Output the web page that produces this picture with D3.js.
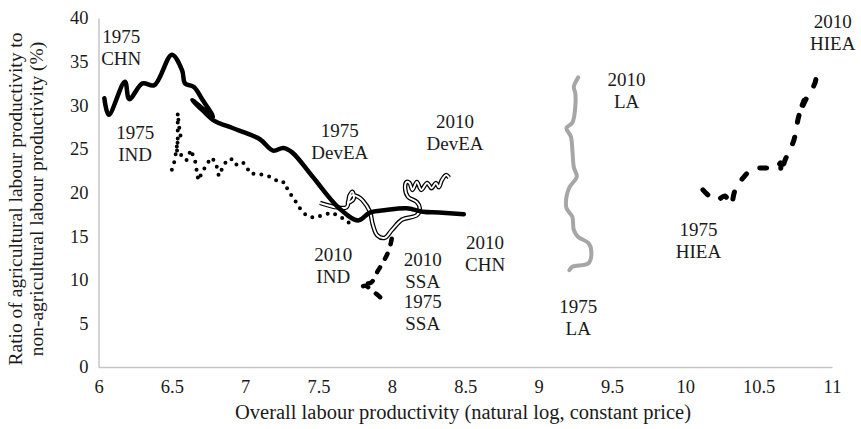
<!DOCTYPE html>
<html>
<head>
<meta charset="utf-8">
<script src="https://cdn.jsdelivr.net/npm/d3@7"></script>
<style>
  body { margin: 0; background: #fff; }
  text { font-family: "Liberation Serif", "DejaVu Serif", serif; fill: #1a1a1a; }
</style>
</head>
<body>
<script>
// ln labour productivity (x) vs agri / non-agri productivity ratio % (y), 1975-2010
var chn = [[6.04,30.8],[6.07,28.9],[6.18,32.7],[6.21,30.7],[6.30,32.5],[6.38,32.3],[6.50,35.8],
  [6.57,34.0],[6.59,32.5],[6.65,32.1],[6.71,30.6],[6.78,28.7],[6.64,30.6],[6.71,29.4],[6.79,28.2],
  [6.88,27.6],[6.96,27.1],[7.10,26.1],[7.19,24.8],[7.26,25.1],[7.32,24.6],[7.46,21.8],[7.64,18.2],
  [7.77,16.8],[7.85,17.7],[7.96,18.0],[8.10,18.2],[8.21,17.8],[8.32,17.7],[8.49,17.5]];

var ind = [[6.50,22.6],[6.52,23.7],[6.54,26.0],[6.54,29.1],[6.55,27.5],[6.56,26.4],[6.53,25.4],
  [6.54,24.3],[6.57,24.3],[6.60,23.7],[6.63,24.9],[6.66,23.5],[6.68,21.4],[6.71,22.4],[6.74,23.3],
  [6.77,24.0],[6.80,23.4],[6.82,21.9],[6.85,23.0],[6.88,23.8],[6.92,23.8],[6.94,23.2],[6.98,23.5],
  [7.01,23.0],[7.03,22.2],[7.10,22.1],[7.17,21.8],[7.24,21.1],[7.27,21.2],[7.29,20.3],[7.35,18.8],
  [7.38,18.0],[7.42,17.3],[7.47,17.1],[7.53,17.4],[7.59,17.7],[7.64,17.3],[7.68,16.9],[7.73,16.2]];

var devea = [[7.51,18.8],[7.69,18.3],[7.71,19.6],[7.73,20.1],[7.74,19.3],[7.70,18.8],[7.73,19.7],
  [7.77,19.5],[7.80,19.1],[7.85,17.8],[7.87,16.3],[7.90,15.1],[7.95,14.8],[8.00,15.7],[8.07,16.9],
  [8.17,17.4],[8.19,18.2],[8.17,18.9],[8.11,19.5],[8.09,20.5],[8.10,21.2],[8.12,21.1],[8.14,20.3],
  [8.17,21.2],[8.20,20.3],[8.24,21.1],[8.27,20.5],[8.30,21.1],[8.32,20.6],[8.34,21.4],[8.37,22.0],
  [8.39,21.7]];

var ssa = [[7.92,8.0],[7.87,8.7],[7.82,9.3],[7.79,9.2],[7.81,9.5],[7.86,9.7],[7.90,10.9],
  [7.94,12.0],[7.98,13.4],[8.00,14.8]];

var la = [[9.21,11.1],[9.23,11.5],[9.34,11.9],[9.36,13.1],[9.34,14.2],[9.27,14.9],[9.24,15.7],
  [9.23,17.2],[9.19,18.2],[9.19,19.5],[9.21,20.6],[9.26,21.8],[9.24,22.9],[9.23,24.9],[9.22,26.4],
  [9.19,27.4],[9.23,28.0],[9.25,29.8],[9.25,31.4],[9.24,32.1],[9.27,33.2]];

var hiea = [[10.12,20.3],[10.21,19.1],[10.27,19.6],[10.31,18.6],[10.34,20.3],[10.40,21.8],
  [10.46,22.7],[10.55,22.8],[10.62,22.8],[10.65,23.4],[10.65,22.2],[10.68,23.7],[10.74,26.0],
  [10.77,28.5],[10.79,29.7],[10.81,30.6],[10.78,29.2],[10.82,30.6],[10.87,32.0],[10.89,33.1],
  [10.86,34.3]];

var xTicks = [6, 6.5, 7, 7.5, 8, 8.5, 9, 9.5, 10, 10.5, 11];
var yTicks = [0, 5, 10, 15, 20, 25, 30, 35, 40];

// label: [x, y, line1, line2]
var labels = [
  [6.155, 37.1, "1975", "CHN"],
  [6.25, 26.1, "1975", "IND"],
  [7.645, 26.4, "1975", "DevEA"],
  [8.43, 27.4, "2010", "DevEA"],
  [7.60, 12.2, "2010", "IND"],
  [8.21, 11.6, "2010", "SSA"],
  [8.21, 6.8, "1975", "SSA"],
  [8.635, 13.5, "2010", "CHN"],
  [9.60, 32.2, "2010", "LA"],
  [9.27, 6.2, "1975", "LA"],
  [10.09, 15.0, "1975", "HIEA"],
  [11.005, 38.9, "2010", "HIEA"]
];

var width = 861, height = 429;

var svg = d3.select("body").append("svg")
    .attr("width", width)
    .attr("height", height);

var x = d3.scaleLinear().domain([6, 11]).range([98.5, 832]);
var y = d3.scaleLinear().domain([0, 40]).range([367, 18]);

// axes
var xAxis = svg.append("g")
    .attr("transform", "translate(0," + y(0) + ")")
    .call(d3.axisBottom(x).tickValues(xTicks).tickSize(0).tickPadding(13)
        .tickFormat(d3.format("")));
var yAxis = svg.append("g")
    .attr("transform", "translate(" + x(6) + ",0)")
    .call(d3.axisLeft(y).tickValues(yTicks).tickSize(0).tickPadding(10));

[xAxis, yAxis].forEach(function (a) {
    a.select(".domain").attr("stroke", "#c4c4c4").attr("stroke-width", 1.5);
    a.selectAll("text").style("font-size", "18.5px").attr("fill", "#1a1a1a");
});

var line = d3.line()
    .x(function (d) { return x(d[0]); })
    .y(function (d) { return y(d[1]); })
    .curve(d3.curveCatmullRom.alpha(0.5));

var lineStraight = d3.line()
    .x(function (d) { return x(d[0]); })
    .y(function (d) { return y(d[1]); });

// IND dotted
svg.append("path").datum(ind)
    .attr("d", lineStraight)
    .attr("fill", "none")
    .attr("stroke", "#000")
    .attr("stroke-width", 4)
    .attr("stroke-linecap", "round")
    .attr("stroke-dasharray", "0,8");

// DevEA hollow line
svg.append("path").datum(devea)
    .attr("d", line)
    .attr("fill", "none")
    .attr("stroke", "#000")
    .attr("stroke-width", 4.5)
    .attr("stroke-linejoin", "round");
svg.append("path").datum(devea)
    .attr("d", line)
    .attr("fill", "none")
    .attr("stroke", "#fff")
    .attr("stroke-width", 2)
    .attr("stroke-linejoin", "round");

// CHN solid
svg.append("path").datum(chn)
    .attr("d", line)
    .attr("fill", "none")
    .attr("stroke", "#000")
    .attr("stroke-width", 4.5)
    .attr("stroke-linejoin", "round")
    .attr("stroke-linecap", "round");

// SSA dashed
svg.append("path").datum(ssa)
    .attr("d", line)
    .attr("fill", "none")
    .attr("stroke", "#000")
    .attr("stroke-width", 4.5)
    .attr("stroke-linecap", "round")
    .attr("stroke-dasharray", "5.5,10");

// LA grey
svg.append("path").datum(la)
    .attr("d", line)
    .attr("fill", "none")
    .attr("stroke", "#a6a6a6")
    .attr("stroke-width", 4)
    .attr("stroke-linejoin", "round")
    .attr("stroke-linecap", "round");

// HIEA long dash
svg.append("path").datum(hiea)
    .attr("d", line)
    .attr("fill", "none")
    .attr("stroke", "#000")
    .attr("stroke-width", 5)
    .attr("stroke-linecap", "round")
    .attr("stroke-dasharray", "7,15");

// series labels
var lab = svg.append("g").selectAll("text")
    .data(labels)
    .enter()
    .append("text")
    .attr("text-anchor", "middle")
    .style("font-size", "19px")
    .attr("x", function (d) { return x(d[0]); })
    .attr("y", function (d) { return y(d[1]); });
lab.append("tspan").text(function (d) { return d[2]; });
lab.append("tspan")
    .attr("x", function (d) { return x(d[0]); })
    .attr("dy", 22)
    .text(function (d) { return d[3]; });

// axis titles
svg.append("text")
    .attr("x", 463)
    .attr("y", 419)
    .attr("text-anchor", "middle")
    .style("font-size", "20.5px")
    .text("Overall labour productivity (natural log, constant price)");

var yt = svg.append("text")
    .attr("transform", "translate(22,199) rotate(-90)")
    .attr("text-anchor", "middle")
    .style("font-size", "19.5px");
yt.append("tspan").attr("x", 0).attr("y", 0)
    .text("Ratio of agricultural labour productivity to");
yt.append("tspan").attr("x", 0).attr("y", 21)
    .text("non-agricultural labour productivity (%)");
</script>
</body>
</html>
